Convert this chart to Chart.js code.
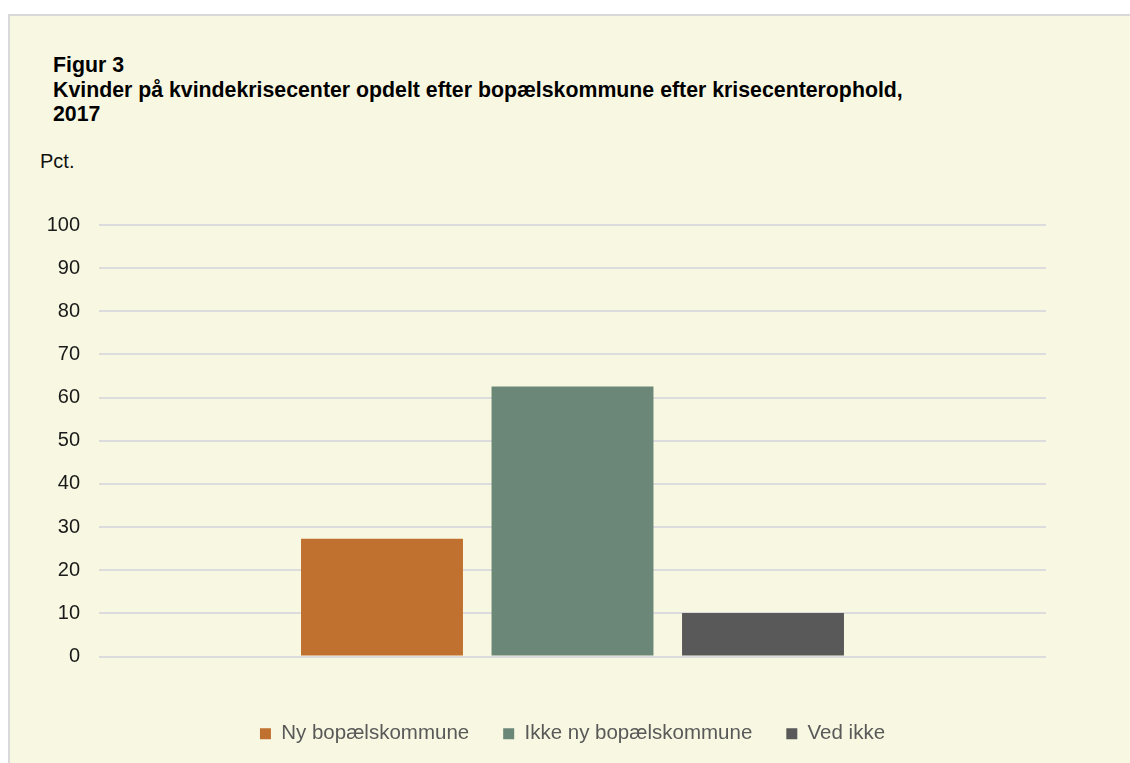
<!DOCTYPE html>
<html>
<head>
<meta charset="utf-8">
<script src="https://cdn.jsdelivr.net/npm/chart.js@4/dist/chart.umd.min.js"></script>
<style>
body { margin: 0; background: #ffffff; font-family: "Liberation Sans", Arial, sans-serif; }
#panel { position: absolute; left: 8px; top: 14px; width: 1122px; height: 749px; background: #f8f8e2; border-top: 2px solid #d9d9d9; border-left: 2px solid #d9d9d9; box-sizing: border-box; }
#title { position: absolute; left: 53px; top: 53px; font-size: 21.3px; font-weight: bold; line-height: 24.5px; color: #000; }
#unit { position: absolute; left: 40px; top: 151px; font-size: 20px; line-height: 20px; color: #111; }
#wrap { position: absolute; left: 0; top: 0; width: 1130px; height: 763px; }
</style>
</head>
<body>
<div id="panel"></div>
<div id="title">Figur 3<br>Kvinder på kvindekrisecenter opdelt efter bopælskommune efter krisecenterophold,<br>2017</div>
<div id="unit">Pct.</div>
<div id="wrap"><canvas id="chart"></canvas></div>
<script>
var categories = ['2017'];
var seriesNames = ['Ny bopælskommune', 'Ikke ny bopælskommune', 'Ved ikke'];
var nyValues = [27.3];
var ikkeNyValues = [62.6];
var vedIkkeValues = [10.1];
var yTicks = [0, 10, 20, 30, 40, 50, 60, 70, 80, 90, 100];

var colors = ['#c0702f', '#6b8777', '#595959'];

var ctx = document.getElementById('chart').getContext('2d');
var chart = new Chart(ctx, {
    type: 'bar',
    data: {
        labels: categories,
        datasets: [{
            label: seriesNames[0],
            data: nyValues,
            backgroundColor: colors[0]
        }, {
            label: seriesNames[1],
            data: ikkeNyValues,
            backgroundColor: colors[1]
        }, {
            label: seriesNames[2],
            data: vedIkkeValues,
            backgroundColor: colors[2]
        }]
    },
    options: {
        responsive: true,
        maintainAspectRatio: false,
        animation: false,
        datasets: {
            bar: { categoryPercentage: 0.6035, barPercentage: 0.85 }
        },
        layout: {
            padding: { top: 225, right: 84, bottom: 9, left: 0 }
        },
        plugins: {
            title: { display: false },
            tooltip: { enabled: false },
            legend: {
                position: 'bottom',
                fullSize: false,
                labels: {
                    boxWidth: 11,
                    boxHeight: 11,
                    padding: 34,
                    color: '#595959',
                    font: { family: '"Liberation Sans", Arial, sans-serif', size: 20.5 }
                }
            }
        },
        scales: {
            x: {
                display: true,
                grid: { display: false },
                border: { display: false },
                ticks: { display: false },
                // space between the plot and the legend
                afterFit: function(scale) { scale.height = 33; }
            },
            y: {
                min: 0,
                max: 100,
                afterBuildTicks: function(scale) {
                    scale.ticks = yTicks.map(function(v) { return { value: v }; });
                },
                afterFit: function(scale) { scale.width = 99; },
                grid: { color: '#dcdcdc', lineWidth: 2, drawTicks: false },
                border: { display: false },
                ticks: {
                    padding: 19,
                    color: '#1a1a1a',
                    font: { family: '"Liberation Sans", Arial, sans-serif', size: 20 }
                }
            }
        }
    }
});
</script>
</body>
</html>
